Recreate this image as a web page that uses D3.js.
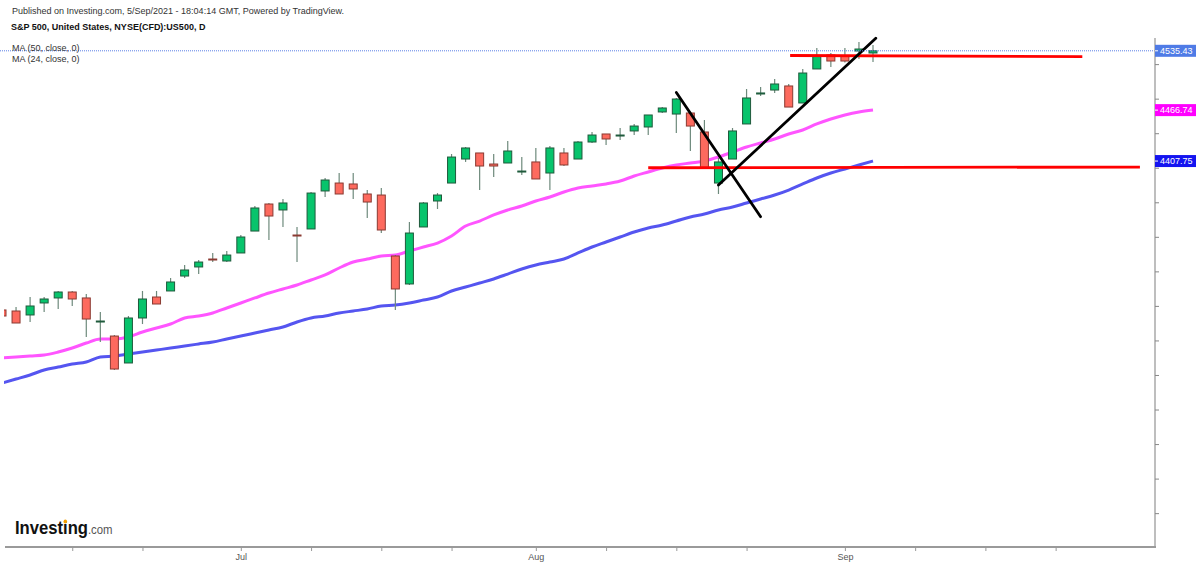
<!DOCTYPE html>
<html>
<head>
<meta charset="utf-8">
<script src="https://cdn.jsdelivr.net/npm/d3@7"></script>
<style>
  body { margin: 0; background: #fff; }
  text { font-family: "Liberation Sans", Arial, sans-serif; }
</style>
</head>
<body>
<div id="graphElement"></div>
<script>
// daily candles, S&P 500 CFD
var dates = ["2021-06-08","2021-06-09","2021-06-10","2021-06-11","2021-06-14","2021-06-15","2021-06-16","2021-06-17","2021-06-18",
  "2021-06-21","2021-06-22","2021-06-23","2021-06-24","2021-06-25","2021-06-28","2021-06-29","2021-06-30",
  "2021-07-01","2021-07-02","2021-07-06","2021-07-07","2021-07-08","2021-07-09","2021-07-12","2021-07-13","2021-07-14",
  "2021-07-15","2021-07-16","2021-07-19","2021-07-20","2021-07-21","2021-07-22","2021-07-23","2021-07-26","2021-07-27",
  "2021-07-28","2021-07-29","2021-07-30","2021-08-02","2021-08-03","2021-08-04","2021-08-05","2021-08-06","2021-08-09",
  "2021-08-10","2021-08-11","2021-08-12","2021-08-13","2021-08-16","2021-08-17","2021-08-18","2021-08-19","2021-08-20",
  "2021-08-23","2021-08-24","2021-08-25","2021-08-26","2021-08-27","2021-08-30","2021-08-31","2021-09-01","2021-09-02","2021-09-03"];

var opens = [4235.3,4234.1,4229.5,4243.4,4249.2,4256.1,4249.2,4221.4,4205.1,
  4173.9,4226.0,4250.3,4257.3,4274.6,4285.1,4294.3,4292.0,
  4301.3,4326.7,4358.0,4351.1,4322.1,4329.1,4373.1,4382.3,4381.2,
  4369.6,4368.4,4297.8,4265.4,4331.4,4361.5,4382.3,4410.1,4417.1,
  4404.3,4405.5,4395.1,4406.7,4393.9,4417.1,4410.1,4429.8,4439.1,
  4436.8,4442.6,4447.2,4464.6,4462.2,4463.4,4441.4,4382.3,4410.1,
  4450.7,4485.4,4490.0,4494.7,4475.0,4514.4,4530.6,4529.4,4535.2,4532.9];

var highs = [4238.7,4238.7,4250.3,4250.3,4257.3,4257.3,4253.8,4232.9,4206.3,
  4228.3,4257.3,4257.3,4272.3,4287.4,4293.2,4301.3,4303.6,
  4322.1,4355.7,4359.2,4363.8,4331.4,4371.9,4388.1,4393.9,4393.9,
  4374.2,4376.5,4298.9,4337.2,4360.3,4370.7,4415.9,4424.0,4417.1,
  4415.9,4431.0,4412.4,4422.9,4425.2,4422.9,4431.0,4441.4,4439.1,
  4446.0,4450.7,4461.1,4470.3,4480.8,4463.4,4455.3,4411.3,4446.0,
  4491.2,4493.5,4502.8,4497.0,4514.4,4538.7,4532.9,4538.7,4545.6,4542.1];

var lows = [4224.0,4220.2,4221.4,4232.9,4236.4,4239.9,4204.0,4198.2,4165.8,
  4173.9,4219.0,4242.2,4257.3,4272.3,4276.9,4290.8,4290.8,
  4301.3,4326.7,4316.3,4331.4,4290.8,4329.1,4366.1,4369.6,4363.8,
  4341.8,4324.4,4235.3,4264.2,4331.4,4352.2,4382.3,4406.7,4374.2,
  4389.3,4405.5,4391.6,4387.0,4374.2,4402.0,4410.1,4428.7,4426.3,
  4432.1,4437.9,4437.9,4463.4,4440.2,4419.4,4399.7,4369.6,4410.1,
  4450.7,4483.1,4486.6,4470.3,4475.0,4514.4,4516.7,4522.0,4526.0,4522.5];

var closes = [4228.3,4220.2,4239.9,4248.0,4256.1,4248.0,4224.8,4222.5,4166.9,
  4226.0,4248.0,4242.2,4267.7,4281.6,4290.8,4293.2,4298.9,
  4319.8,4353.4,4344.1,4359.2,4321.0,4370.7,4385.8,4369.6,4375.4,
  4360.3,4327.9,4259.6,4324.4,4359.2,4368.4,4412.4,4422.9,4402.0,
  4402.0,4419.4,4396.2,4387.0,4422.9,4403.2,4429.8,4437.9,4433.3,
  4437.9,4448.3,4461.1,4469.2,4479.6,4448.3,4399.7,4406.7,4442.6,
  4480.8,4486.6,4497.0,4470.3,4509.7,4529.4,4523.6,4523.6,4537.5,4535.43];

// moving averages
var ma24 = [4179.7,4180.8,4182.0,4183.1,4186.6,4191.2,4197.0,4201.7,4201.7,4204.0,
  4209.8,4214.4,4219.0,4226.0,4228.3,4231.8,4237.6,4243.4,4249.2,4254.9,
  4259.6,4264.2,4270.0,4275.8,4283.9,4290.8,4294.3,4297.8,4298.9,4303.6,
  4308.2,4312.8,4321.0,4332.5,4338.3,4345.3,4351.1,4355.7,4361.5,4366.1,
  4371.9,4376.5,4378.9,4381.2,4384.6,4390.4,4395.1,4399.7,4403.2,4405.5,
  4407.8,4412.4,4418.2,4424.0,4428.7,4433.3,4439.1,4443.7,4450.7,4456.5,
  4461.1,4464.6,4466.74];

var ma50 = [4150.7,4155.3,4160.0,4165.8,4169.2,4172.7,4175.0,4180.8,4182.0,4184.3,
  4186.6,4188.9,4191.2,4193.6,4195.9,4198.2,4201.7,4205.1,4208.6,4212.1,
  4215.6,4221.4,4226.0,4228.3,4231.8,4234.1,4236.4,4239.9,4241.0,4243.4,
  4246.8,4250.3,4257.3,4261.9,4266.5,4271.2,4276.9,4282.7,4287.4,4290.8,
  4294.3,4301.3,4308.2,4314.0,4319.8,4325.6,4330.2,4333.7,4338.3,4343.0,
  4346.4,4351.1,4354.5,4359.2,4363.8,4368.4,4374.2,4381.2,4388.1,4393.9,
  4398.5,4403.2,4407.75];

// axes
var priceTicks = d3.range(4000, 4521, 40);
var dateTicks = [5, 10, 17, 22, 27, 32, 38, 43, 48, 53, 60, 65, 70, 75];
var dateTickLabels = ["", "", "Jul", "", "", "", "Aug", "", "", "", "Sep", "", "", ""];

// hand drawn lines, [bar index, price]
var redLevels = [[[56.1, 4530.0], [76.9, 4528.6]], [[46.0, 4400.0], [81.0, 4400.8]]];
var blackTrends = [[[48.0, 4487.1], [54.0, 4343.3]], [[51.0, 4380.0], [62.2, 4549.9]]];

var w = 1200;
var h = 566;
var axisX = 1155;
var axisY = 547;

var xScale = d3.scaleLinear()
               .domain([0, dates.length - 1])
               .range([2, 873]);

var yScale = d3.scaleLinear()
               .domain([4535.43, 4000])
               .range([50.8, 50.8 + 535.43 * 0.8635]);

var svg = d3.select("#graphElement")
            .append("svg")
            .attr("width", w)
            .attr("height", h)

svg.append("defs").append("clipPath")
   .attr("id", "plotClip")
   .append("rect")
   .attr("x", 4)
   .attr("y", 36)
   .attr("width", axisX - 4)
   .attr("height", axisY - 36)

var plot = svg.append("g").attr("clip-path", "url(#plotClip)")

// last price dotted line
var lastClose = closes[closes.length - 1];
svg.append("line")
   .attr("x1", 0)
   .attr("x2", axisX)
   .attr("y1", yScale(lastClose))
   .attr("y2", yScale(lastClose))
   .attr("stroke", "#5b7fe6")
   .attr("stroke-width", 1)
   .attr("stroke-dasharray", "1,1")

// moving averages
var maLine = d3.line()
               .x(function(d, i) { return xScale(i); })
               .y(function(d) { return yScale(d); })
               .curve(d3.curveMonotoneX);

plot.append("path")
    .datum(ma24)
    .attr("d", maLine)
    .attr("fill", "none")
    .attr("stroke", "#ff55ff")
    .attr("stroke-width", 3)

plot.append("path")
    .datum(ma50)
    .attr("d", maLine)
    .attr("fill", "none")
    .attr("stroke", "#5555f0")
    .attr("stroke-width", 3)

// candles
var bodyW = 8;
var candles = plot.selectAll("g.candle")
                  .data(dates)
                  .enter()
                  .append("g")
                  .attr("class", "candle")

candles.append("line")
       .attr("x1", function(d, i) { return xScale(i); })
       .attr("x2", function(d, i) { return xScale(i); })
       .attr("y1", function(d, i) { return yScale(highs[i]); })
       .attr("y2", function(d, i) { return yScale(lows[i]); })
       .attr("stroke", "#6e8a7c")
       .attr("stroke-width", 1.2)

candles.append("rect")
       .attr("x", function(d, i) { return xScale(i) - bodyW / 2; })
       .attr("y", function(d, i) { return yScale(Math.max(opens[i], closes[i])); })
       .attr("width", bodyW)
       .attr("height", function(d, i) { return Math.max(1, Math.abs(yScale(opens[i]) - yScale(closes[i]))); })
       .attr("fill", function(d, i) { return closes[i] >= opens[i] ? "#07c46c" : "#fd6a5e"; })
       .attr("stroke", function(d, i) { return closes[i] >= opens[i] ? "#1f5a3c" : "#8a3a32"; })
       .attr("stroke-width", 1)

// drawn support / trend lines
var pairLine = d3.line()
                 .x(function(d) { return xScale(d[0]); })
                 .y(function(d) { return yScale(d[1]); });

plot.selectAll("path.level")
    .data(redLevels)
    .enter()
    .append("path")
    .attr("class", "level")
    .attr("d", pairLine)
    .attr("stroke", "#ff0000")
    .attr("stroke-width", 2.8)

plot.selectAll("path.trend")
    .data(blackTrends)
    .enter()
    .append("path")
    .attr("class", "trend")
    .attr("d", pairLine)
    .attr("stroke", "#000")
    .attr("stroke-width", 2.8)
    .attr("stroke-linecap", "round")

// right price axis
svg.append("line")
   .attr("x1", axisX).attr("x2", axisX)
   .attr("y1", 38).attr("y2", axisY)
   .attr("stroke", "#a8a8a8")
   .attr("stroke-width", 1.5)

var yAxis = d3.axisRight(yScale)
              .tickValues(priceTicks)
              .tickFormat("")
              .tickSize(4);

svg.append("g")
   .attr("transform", "translate(" + axisX + ",0)")
   .call(yAxis)
   .call(function(g) { g.select(".domain").remove(); })
   .selectAll("line").attr("stroke", "#888")

// bottom date axis
svg.append("line")
   .attr("x1", 5).attr("x2", axisX + 1)
   .attr("y1", axisY).attr("y2", axisY)
   .attr("stroke", "#9a9a9a")
   .attr("stroke-width", 2)

var xAxis = d3.axisBottom(xScale)
              .tickValues(dateTicks)
              .tickFormat(function(d, i) { return dateTickLabels[i]; })
              .tickSize(4)
              .tickPadding(3);

var xg = svg.append("g")
            .attr("transform", "translate(0," + axisY + ")")
            .call(xAxis)
xg.select(".domain").remove();
xg.selectAll("line").attr("stroke", "#999")
xg.selectAll("text")
  .attr("font-size", 9)
  .attr("fill", "#555")
  .style("font-family", "'Liberation Sans', Arial, sans-serif")

// value tags on the price axis
var tags = [
  { v: lastClose, c: "#4f7be6" },
  { v: ma24[ma24.length - 1], c: "#ff00ff" },
  { v: ma50[ma50.length - 1], c: "#1414f0" }
];

var tag = svg.selectAll("g.tag")
             .data(tags)
             .enter()
             .append("g")
             .attr("class", "tag")
             .attr("transform", function(d) { return "translate(" + axisX + "," + yScale(d.v) + ")"; })

tag.append("rect")
   .attr("x", 0).attr("y", -6)
   .attr("width", 41).attr("height", 12)
   .attr("fill", function(d) { return d.c; })

tag.append("line")
   .attr("x1", 0).attr("x2", 3)
   .attr("stroke", "#fff")

tag.append("text")
   .attr("x", 5)
   .attr("dy", "0.35em")
   .attr("font-size", 9)
   .attr("fill", "#fff")
   .text(function(d) { return d3.format(".2f")(d.v); })

// header texts
svg.append("text")
   .attr("x", 12).attr("y", 14)
   .attr("font-size", 9)
   .attr("fill", "#333")
   .text("Published on Investing.com, 5/Sep/2021 - 18:04:14 GMT, Powered by TradingView.")

svg.append("text")
   .attr("x", 11).attr("y", 30)
   .attr("font-size", 9)
   .attr("font-weight", "bold")
   .attr("fill", "#111")
   .text("S&P 500, United States, NYSE(CFD):US500, D")

svg.append("text")
   .attr("x", 12).attr("y", 51)
   .attr("font-size", 9)
   .attr("fill", "#333")
   .text("MA (50, close, 0)")

svg.append("text")
   .attr("x", 12).attr("y", 62)
   .attr("font-size", 9)
   .attr("fill", "#333")
   .text("MA (24, close, 0)")

// Investing.com logo, one text squeezed sideways
var logoG = svg.append("g")
               .attr("transform", "translate(15,534) scale(0.875,1)")

var logo = logoG.append("text")
                .attr("x", 0).attr("y", 0)
                .attr("fill", "#111")

logo.append("tspan")
    .attr("font-size", 19)
    .attr("font-weight", "bold")
    .text("Investing")

logo.append("tspan")
    .attr("font-size", 13)
    .attr("fill", "#555")
    .text(".com")

var iBox = logo.node().getExtentOfChar(6);
logoG.append("circle")
     .attr("cx", iBox.x + iBox.width / 2)
     .attr("cy", -12.5)
     .attr("r", 2)
     .attr("fill", "#f5a000")
</script>
</body>
</html>
